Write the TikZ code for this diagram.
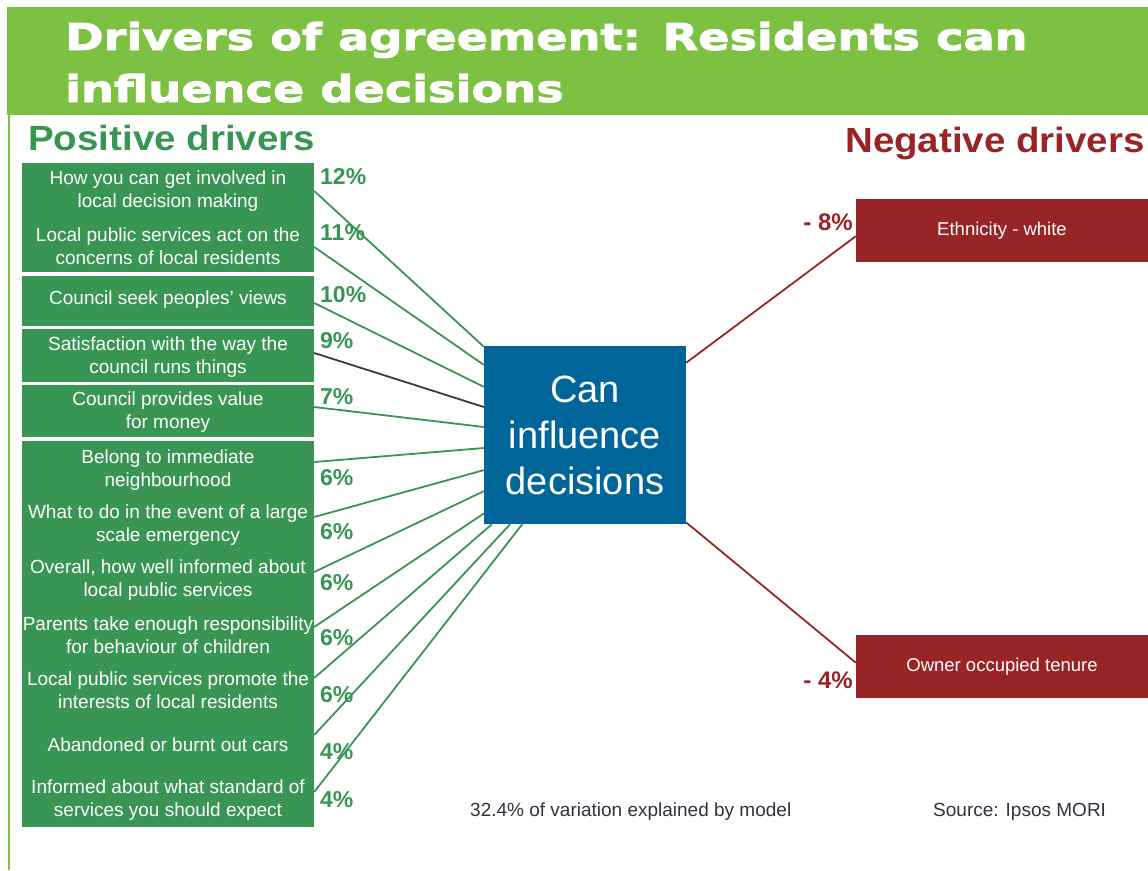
\documentclass[tikz,border=0pt]{standalone}
\usepackage{fontspec}
\setmainfont{Liberation Sans}
\newfontfamily\titlefont{DejaVu Sans}[FakeStretch=1.25,FakeBold=2.5]
\newfontfamily\headfont{Liberation Sans}[FakeStretch=1.1]
\usepackage{xcolor}
\definecolor{grass}{RGB}{124,193,66}
\definecolor{leaf}{RGB}{57,149,84}
\definecolor{ocean}{RGB}{0,101,153}
\definecolor{brick}{RGB}{152,36,38}
\definecolor{ink}{RGB}{60,60,60}
\definecolor{slate}{RGB}{50,50,62}
\usepackage{tikz}
\usetikzlibrary{calc}

\begin{document}
\begin{tikzpicture}[x=1pt,y=-1pt,
  headline/.style={anchor=base west,inner sep=0pt,text=white,
    font=\titlefont\bfseries\fontsize{37}{53}\selectfont},
  sidehead/.style={inner sep=0pt,font=\headfont\bfseries\fontsize{35}{40}\selectfont},
  driver/.style={text=white,align=center,minimum width=292pt,inner sep=0pt,
    font=\fontsize{19}{23}\selectfont},
  share/.style={anchor=west,inner sep=0pt,text=leaf,
    font=\fontsize{23}{23}\selectfont\bfseries},
  minus/.style={anchor=east,inner sep=0pt,text=brick,
    font=\fontsize{24}{24}\selectfont\bfseries},
  negbox/.style={fill=brick,text=white,minimum width=292pt,minimum height=63pt,
    inner sep=0pt,font=\fontsize{18.5}{22}\selectfont},
  spoke/.style={line width=1.8pt},
  note/.style={anchor=west,inner sep=0pt,text=slate,font=\fontsize{19}{22}\selectfont}]

\useasboundingbox (0,0) rectangle (1148,870);

%% title band and side rule
\fill[grass] (7,7) rectangle (1148,115);
\draw[grass,line width=2pt] (9,115) -- (9,870);
\node[headline] (titletop) at (65,50) {Drivers of agreement: Residents can};
\node[headline] (titlebot) at (65,102) {influence decisions};

\node[sidehead,anchor=base west,text=leaf] (poshead) at (28,150) {Positive drivers};
\node[sidehead,anchor=base east,text=brick] (neghead) at (1145,152) {Negative drivers};

%% green panels behind the drivers
\foreach \top/\bot in {163/272,276/326,329/382,385/437,441/827}
  \fill[leaf] (22,\top) rectangle (314,\bot);

\foreach \n/\y/\txt in {
  1/191/{How you can get involved in\\local decision making},
  2/246/{Local public services act on the\\concerns of local residents},
  3/300/{Council seek peoples' views},
  4/357/{Satisfaction with the way the\\council runs things},
  5/412/{Council provides value\\for money},
  6/470/{Belong to immediate\\neighbourhood},
  7/525/{What to do in the event of a large\\scale emergency},
  8/580/{Overall, how well informed about\\local public services},
  9/635/{Parents take enough responsibility\\for behaviour of children},
  10/690/{Local public services promote the\\interests of local residents},
  11/745/{Abandoned or burnt out cars},
  12/800/{Informed about what standard of\\services you should expect}}
  \node[driver] (drv\n) at (168,\y) {\txt};

\foreach \n/\y/\p in {1/177/12,2/233/11,3/295/10,4/341/9,5/397/7,6/478/6,
                      7/532/6,8/583/6,9/638/6,10/695/6,11/752/4,12/800/4}
  \node[share] (pct\n) at (320,\y) {\p\%};

%% centre box
\node[fill=ocean,text=white,minimum width=202pt,minimum height=178pt,
      align=center,font=\fontsize{38}{46}\selectfont] (hub) at (585,435)
  {Can\\influence\\decisions};

%% spokes into the left side and the bottom of the centre box
\foreach \n/\dy/\f/\c in {1/0/0.005/leaf,2/-1/0.107/leaf,3/-3/0.23/leaf,
    4/4/0.343/ink,5/5/0.455/leaf,6/8/0.573/leaf,7/8/0.697/leaf,
    8/8/0.815/leaf,9/8/0.94/leaf}
  \draw[spoke,\c] ([yshift=\dy pt]drv\n.east) -- ($(hub.north west)!\f!(hub.south west)$);
\foreach \n/\dy/\f in {10/12/0.04,11/10/0.13,12/8/0.19}
  \draw[spoke,leaf] ([yshift=\dy pt]drv\n.east) -- ($(hub.south west)!\f!(hub.south east)$);

%% negative side
\node[negbox] (neg1) at (1002,230.5) {Ethnicity - white};
\node[negbox] (neg2) at (1002,666.5) {Owner occupied tenure};
\node[minus] (npct1) at (853,222) {- 8\%};
\node[minus] (npct2) at (853,680) {- 4\%};
\draw[spoke,brick] ($(hub.north east)!0.095!(hub.south east)$)
  -- ($(neg1.north west)!0.59!(neg1.south west)$);
\draw[spoke,brick] ($(hub.north east)!0.99!(hub.south east)$)
  -- ($(neg2.north west)!0.44!(neg2.south west)$);

\node[note] (model) at (470,812) {32.4\% of variation explained by model};
\node[note] (source) at (933,812) {Source: Ipsos MORI};
\end{tikzpicture}
\end{document}
